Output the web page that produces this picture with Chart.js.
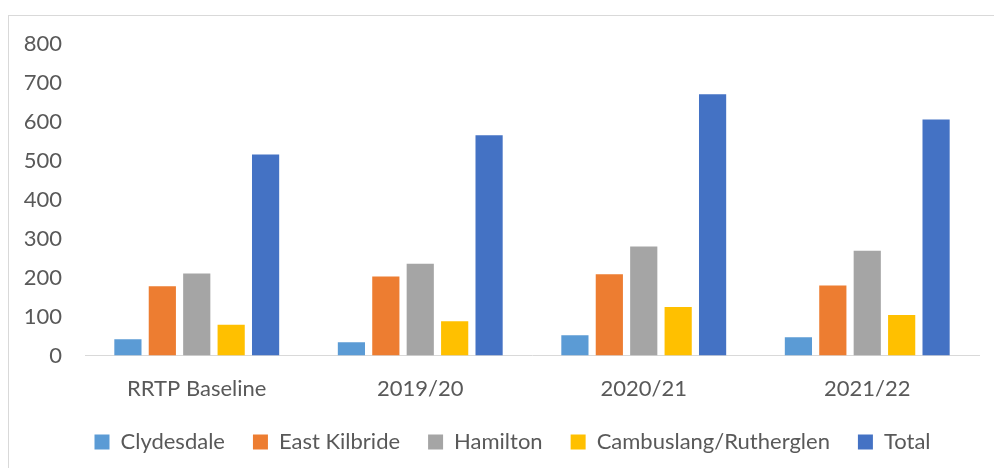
<!DOCTYPE html>
<html>
<head>
<meta charset="utf-8">
<script src="https://cdn.jsdelivr.net/npm/chart.js@4"></script>
<style>
  body { margin: 0; background: #fff; }
  #frame { position: absolute; left: 8px; top: 15px; width: 986px; height: 453px;
           border-left: 1px solid #d9d9d9; border-top: 1px solid #d9d9d9; }
  #wrap { position: absolute; left: 0; top: 0; width: 994px; height: 468px; }
</style>
</head>
<body>
<div id="frame"></div>
<div id="wrap"><canvas id="myChart" width="994" height="468"></canvas></div>
<script>
// chart data
const categories = ['RRTP Baseline', '2019/20', '2020/21', '2021/22'];
const clydesdale = [42, 34, 52, 47];
const eastKilbride = [178, 203, 209, 180];
const hamilton = [211, 236, 280, 269];
const cambuslang = [79, 88, 125, 104];
const total = [516, 566, 671, 606];
const yTicks = [0, 100, 200, 300, 400, 500, 600, 700, 800];

const textColor = '#595959';
const fontFamily = 'Lato, "Open Sans", sans-serif';

function series(label, data, color) {
    return { label: label, data: data, backgroundColor: color, borderWidth: 0 };
}

// nudge the legend a bit to the right, like the original
const legendShift = {
    id: 'legendShift',
    afterLayout: function (chart) {
        chart.legend.left += 23;
        chart.legend.right += 23;
    }
};

let ctx = document.getElementById('myChart').getContext('2d');

let chart = new Chart(ctx, {
    type: 'bar',
    data: {
        labels: categories,
        datasets: [
            series('Clydesdale', clydesdale, '#5b9bd5'),
            series('East Kilbride', eastKilbride, '#ed7d31'),
            series('Hamilton', hamilton, '#a5a5a5'),
            series('Cambuslang/Rutherglen', cambuslang, '#ffc000'),
            series('Total', total, '#4472c4')
        ]
    },
    plugins: [legendShift],
    options: {
        responsive: false,
        animation: false,
        events: [],
        layout: { padding: { left: 0, right: 15, top: 44, bottom: 5 } },
        datasets: { bar: { categoryPercentage: 0.77, barPercentage: 0.79 } },
        scales: {
            x: {
                afterFit: function (scale) { scale.height = scale.height - 11; },
                grid: { display: false },
                border: { display: true, color: '#d9d9d9', width: 1 },
                ticks: { color: textColor, font: { family: fontFamily, size: 22 }, padding: 12 }
            },
            y: {
                min: 0,
                max: 800,
                afterBuildTicks: function (scale) {
                    scale.ticks = yTicks.map(v => ({ value: v }));
                },
                afterFit: function (scale) { scale.width = 85; },
                grid: { display: false, drawTicks: false },
                border: { display: false },
                ticks: { color: textColor, font: { family: fontFamily, size: 22 }, padding: 23 }
            }
        },
        plugins: {
            tooltip: { enabled: false },
            legend: {
                position: 'bottom',
                labels: {
                    color: textColor,
                    font: { family: fontFamily, size: 22 },
                    boxWidth: 15,
                    boxHeight: 15,
                    padding: 28
                }
            }
        }
    }
});
</script>
</body>
</html>
